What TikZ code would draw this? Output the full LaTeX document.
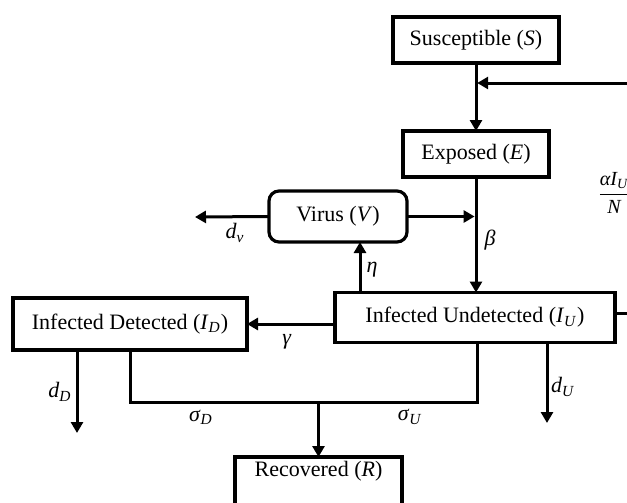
\documentclass[tikz,border=0pt]{standalone}
\usepackage{fontspec}
\setmainfont{Liberation Serif}
\usepackage{amsmath}
\usetikzlibrary{arrows.meta}
\newcommand{\iv}[2]{\textit{#1}\textsubscript{\textit{#2}}}
\begin{document}
\begin{tikzpicture}[x=0.5pt,y=-0.5pt,
  font=\fontsize{11}{13}\selectfont,
  box/.style={draw,line width=1.6pt,inner sep=0pt,outer sep=0pt,fill=white},
  conn/.style={line width=1.5pt},
  arr/.style={conn,-{Triangle[length=5.5pt,width=6pt]}},
  lab/.style={inner sep=0pt}]
\useasboundingbox (0,0) rectangle (627,503);
\clip (0,0) rectangle (627,503);

% boxes
\node[box,minimum width=83pt,minimum height=23pt] (S) at (476,40) {Susceptible (\textit{S})};
\node[box,minimum width=73pt,minimum height=23pt] (E) at (476,154) {Exposed (\textit{E})};
\node[box,rounded corners=5pt,minimum width=69pt,minimum height=25.5pt] (V) at (338,216.5) {Virus (\textit{V})};
\node[box,minimum width=140pt,minimum height=25pt] (IU) at (475,317.5) {Infected Undetected (\iv{I}{U})};
\node[box,minimum width=117pt,minimum height=26pt] (ID) at (130,324) {Infected Detected (\iv{I}{D})};
\node[box,minimum width=83.5pt,minimum height=25pt,anchor=north] (R) at (318.5,457) {\raisebox{3pt}[0pt][0pt]{Recovered (\textit{R})}};

% helper coordinates
\coordinate (inR) at (640,83);
\coordinate (j1) at (S.south |- inR);
\coordinate (j2) at (E.south |- V.east);
\coordinate (dv) at (195,217);
\coordinate (eta) at (360,242);
\coordinate (outR) at (640,313);
\coordinate (dD) at (77,433);
\coordinate (dU) at (547,423);
\coordinate (jD) at (130,402);
\coordinate (jU) at (477,402);
\coordinate (jR) at (R.north |- jD);

% connectors
\draw[arr] (S) -- (E);
\draw[arr] (inR) -- ([xshift=0.6pt]j1);
\draw[arr] (V.east) -- ([xshift=-0.7pt]j2);
\draw[arr] (V.west) -- (dv);
\draw[arr] (E.south) -- (E.south |- IU.north);
\draw[arr] (eta |- IU.north) -- (eta);
\draw[arr] (IU.west |- ID.east) -- (ID.east);
\draw[conn] (IU.east |- outR) -- (outR);
\draw[arr] (dD |- ID.south) -- (dD);
\draw[arr] (dU |- IU.south) -- (dU);
\draw[conn] (ID.south) -- (jD) -- (jU) -- (jU |- IU.south);
\draw[arr] (jR) -- (R.north);

% labels
\node[lab] (ldv) at (235,233) {\iv{d}{v}};
\node[lab] (lbeta) at (490,240) {\textit{β}};
\node[lab] (leta) at (372,270) {\textit{η}};
\node[lab] (lgam) at (287,342) {\textit{γ}};
\node[lab] (ldD) at (60,392) {\iv{d}{D}};
\node[lab] (lsD) at (201,417) {\iv{σ}{D}};
\node[lab] (lsU) at (410,417) {\iv{σ}{U}};
\node[lab] (ldU) at (563,387) {\iv{d}{U}};
\node[lab] (frac) at (614,193) {\fontsize{10}{12}\selectfont$\dfrac{\textit{α}\textit{I}_{\textit{U}}}{\textit{N}}$};
\end{tikzpicture}
\end{document}
